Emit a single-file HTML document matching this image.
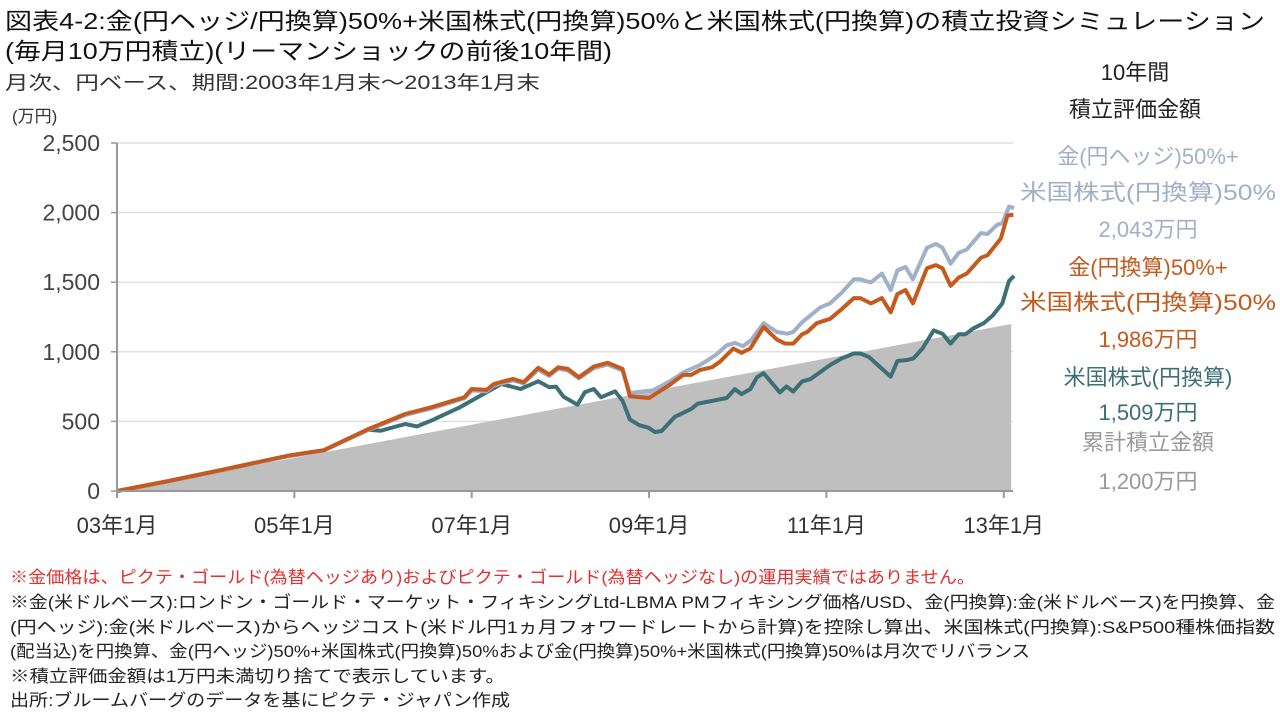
<!DOCTYPE html>
<html><head><meta charset="utf-8">
<style>
html,body{margin:0;padding:0;background:#fff;}
svg{display:block;font-family:"Liberation Sans","Noto Sans CJK JP",sans-serif;}
</style></head>
<body>
<svg id="chart" width="1280" height="716" viewBox="0 0 1280 716">
<g fill="#111" font-size="23">
<text x="5" y="29" textLength="1260" lengthAdjust="spacingAndGlyphs">図表4-2:金(円ヘッジ/円換算)50%+米国株式(円換算)50%と米国株式(円換算)の積立投資シミュレーション</text>
<text x="5" y="59" textLength="607" lengthAdjust="spacingAndGlyphs">(毎月10万円積立)(リーマンショックの前後10年間)</text>
</g>
<text x="5" y="89" font-size="19" fill="#333" textLength="535" lengthAdjust="spacingAndGlyphs">月次、円ベース、期間:2003年1月末～2013年1月末</text>
<text x="12" y="122" font-size="17" fill="#333">(万円)</text>
<g id="grid"></g>
<g id="area"></g>
<g id="lines"></g>
<g id="axes"></g>
<g text-anchor="middle" font-size="22">
<text x="1135" y="80" fill="#222">10年間</text>
<text x="1135" y="117" fill="#222">積立評価金額</text>
<text x="1148" y="164" fill="#9fb0c8">金(円ヘッジ)50%+</text>
<text x="1148" y="200" fill="#9fb0c8" textLength="256" lengthAdjust="spacingAndGlyphs">米国株式(円換算)50%</text>
<text x="1148" y="237" fill="#9fb0c8">2,043万円</text>
<text x="1148" y="275" fill="#c55a1e">金(円換算)50%+</text>
<text x="1148" y="310" fill="#c55a1e" textLength="256" lengthAdjust="spacingAndGlyphs">米国株式(円換算)50%</text>
<text x="1148" y="347" fill="#c55a1e">1,986万円</text>
<text x="1148" y="385" fill="#3d7076">米国株式(円換算)</text>
<text x="1148" y="420" fill="#3d7076">1,509万円</text>
<text x="1148" y="450" fill="#999">累計積立金額</text>
<text x="1148" y="489" fill="#999">1,200万円</text>
</g>
<g font-size="17" fill="#222">
<text x="10" y="583" fill="#e03030" textLength="965" lengthAdjust="spacingAndGlyphs">※金価格は、ピクテ・ゴールド(為替ヘッジあり)およびピクテ・ゴールド(為替ヘッジなし)の運用実績ではありません。</text>
<text x="10" y="608" textLength="1265" lengthAdjust="spacingAndGlyphs">※金(米ドルベース):ロンドン・ゴールド・マーケット・フィキシングLtd-LBMA PMフィキシング価格/USD、金(円換算):金(米ドルベース)を円換算、金</text>
<text x="10" y="633" textLength="1265" lengthAdjust="spacingAndGlyphs">(円ヘッジ):金(米ドルベース)からヘッジコスト(米ドル円1ヵ月フォワードレートから計算)を控除し算出、米国株式(円換算):S&amp;P500種株価指数</text>
<text x="10" y="657" textLength="1020" lengthAdjust="spacingAndGlyphs">(配当込)を円換算、金(円ヘッジ)50%+米国株式(円換算)50%および金(円換算)50%+米国株式(円換算)50%は月次でリバランス</text>
<text x="10" y="682" textLength="495" lengthAdjust="spacingAndGlyphs">※積立評価金額は1万円未満切り捨てで表示しています。</text>
<text x="10" y="706" textLength="500" lengthAdjust="spacingAndGlyphs">出所:ブルームバーグのデータを基にピクテ・ジャパン作成</text>
</g>
</svg>
<script>
const yTicks = [0, 500, 1000, 1500, 2000, 2500];
const yTickLabels = ["0", "500", "1,000", "1,500", "2,000", "2,500"];
const xTickMonths = [0, 24, 48, 72, 96, 120];
const xTickLabels = ["03年1月", "05年1月", "07年1月", "09年1月", "11年1月", "13年1月"];
const cumMonths = [0, 121];
const cumValues = [0, 1200];
const orangeMonths = [0,7,13.5,23,28,34,39,42.5,47,48,50,51,53.6,55,57,58.5,59.7,61,62.5,64.5,66.4,68.4,69.4,72,74.8,76.6,77.7,78.9,80.5,81.6,83.4,84.5,85.7,87.5,89.3,90.4,91.5,92.7,93.4,94.7,96.5,98.1,99.7,100.6,102,103.5,104.7,105.6,106.7,107.7,109.6,110.8,111.7,112.8,113.9,115,116.9,117.8,119.6,120.5,121.3];
const orangeValues = [0,72,144,252,293,445,553,601,673,733,726,769,805,781,885,837,889,877,817,894,921,877,680,668,763,834,834,870,889,929,1024,993,1024,1178,1088,1059,1059,1126,1142,1206,1237,1308,1386,1386,1348,1386,1284,1415,1443,1348,1600,1623,1600,1474,1533,1562,1675,1694,1813,1979,1984];
const blueMonths = [0,7,13.5,23,28,34,39,42.5,47,48,50,51,53.6,55,57,58.5,59.7,61,62.5,64.5,66.4,68.4,69.4,72.5,74.8,76.6,78.9,81,82.5,83.6,84.7,85.8,87.5,89.3,90.7,91.5,92.7,95.2,96.5,98.1,99.7,100.6,102,103.5,104.7,105.6,106.7,107.7,109.6,110.8,111.7,112.8,113.9,115,116.9,117.8,119.1,119.8,120.7,121.4];
const blueValues = [0,70,140,248,290,438,545,592,665,722,716,758,795,772,872,826,878,866,808,882,908,866,704,723,787,851,905,976,1047,1064,1040,1083,1206,1142,1130,1142,1213,1320,1348,1427,1521,1521,1498,1562,1443,1585,1609,1521,1747,1775,1747,1633,1711,1735,1853,1846,1912,1924,2043,2032];
const tealMonths = [0,7,13.5,23,28,34,35.7,39,40.6,42.5,46.4,52,54.6,57,58.5,59.4,60.4,62.3,63.3,64.5,65.5,67.4,68.4,69.4,70.7,71.9,72.8,73.7,75.5,77.7,78.6,80.2,82.5,83.6,84.5,85.7,86.6,87.5,89.7,90.6,91.5,92.7,93.8,96.5,98.1,99.7,100.6,101.7,104.7,105.6,106.9,107.8,109,110.5,111.7,112.8,113.9,114.8,115.8,117.3,118.5,119.8,120.7,121.4];
const tealValues = [0,72,144,252,293,440,433,481,464,505,601,769,733,788,745,750,678,620,709,733,673,716,649,514,472,455,424,431,533,590,628,644,668,732,696,732,817,846,708,751,715,787,803,905,953,988,988,964,822,934,941,953,1024,1154,1130,1059,1126,1126,1166,1206,1261,1348,1509,1545];

const NS = "http://www.w3.org/2000/svg";
const X0 = 117, PXM = 7.39, Y0 = 491, PXV = 0.1392;
function xs(m){ return X0 + m * PXM; }
function ys(v){ return Y0 - v * PXV; }
function mk(tag, attrs, parent){
  const e = document.createElementNS(NS, tag);
  for (const k in attrs) e.setAttribute(k, attrs[k]);
  parent.appendChild(e);
  return e;
}
const grid = document.getElementById('grid');
const axes = document.getElementById('axes');
yTicks.forEach((v, i) => {
  if (v > 0) {
    const g = mk('line', {x1: X0, x2: 1013, y1: ys(v), y2: ys(v), stroke: '#e0e0e0', 'stroke-width': 1.5}, grid);
    
    
  }
  const tk = mk('line', {x1: X0 - 6, x2: X0, y1: ys(v), y2: ys(v), stroke: '#999', 'stroke-width': 1.5}, axes);
  
  
  const t = mk('text', {x: 100, y: ys(v) + 8, 'text-anchor': 'end', 'font-size': 23, fill: '#444'}, axes);
  t.textContent = yTickLabels[i];
  
  
});
const area = document.getElementById('area');
let d = 'M' + xs(cumMonths[0]) + ',' + ys(0);
cumMonths.forEach((m, i) => { d += ' L' + xs(m) + ',' + ys(cumValues[i]); });
d += ' L' + xs(cumMonths[cumMonths.length - 1]) + ',' + ys(0) + ' Z';
const ap = mk('path', {d: d, fill: '#bfbfbf'}, area);


const lines = document.getElementById('lines');
function drawLine(ms, vs, color, name){
  const pts = ms.map((m, i) => xs(m).toFixed(1) + ',' + ys(vs[i]).toFixed(1)).join(' ');
  const p = mk('polyline', {points: pts, fill: 'none', stroke: color, 'stroke-width': 4, 'stroke-linejoin': 'round'}, lines);
  
  
}
drawLine(tealMonths, tealValues, '#3d7076', 'us-stock-line');
drawLine(blueMonths, blueValues, '#9fb0c8', 'gold-hedge-mix-line');
drawLine(orangeMonths, orangeValues, '#c55a1e', 'gold-yen-mix-line');
const ya = mk('line', {x1: X0, x2: X0, y1: ys(2500), y2: Y0, stroke: '#999', 'stroke-width': 2}, axes);


const xa = mk('line', {x1: X0, x2: 1013, y1: Y0, y2: Y0, stroke: '#999', 'stroke-width': 2}, axes);


xTickMonths.forEach((m, i) => {
  const tk = mk('line', {x1: xs(m), x2: xs(m), y1: Y0, y2: Y0 + 7, stroke: '#999', 'stroke-width': 2}, axes);
  
  
  const t = mk('text', {x: xs(m), y: 533, 'text-anchor': 'middle', 'font-size': 22, fill: '#333'}, axes);
  t.textContent = xTickLabels[i];
  
  
});
</script>
</body></html>
